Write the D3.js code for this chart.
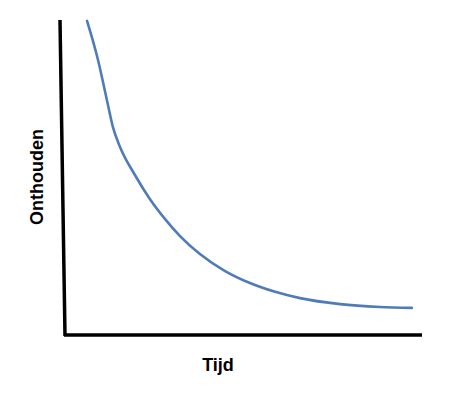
<!DOCTYPE html>
<html>
<head>
<meta charset="utf-8">
<script src="https://cdn.jsdelivr.net/npm/d3@7"></script>
<style>
  body { margin: 0; background: #fff; }
  svg { display: block; }
</style>
</head>
<body>
<svg id="chart"></svg>
<script>
// Vergeetcurve: tijd (0-100) tegen onthouden (0-100)
const tijd = [6.2, 9.3, 11.8, 13.5, 15.5, 19.7, 23.9, 28.2, 32.4, 38.0, 45.1, 52.1, 59.2, 66.2, 77.5, 88.7, 97.7];
const onthouden = [99.7, 87.3, 74.6, 66.0, 59.7, 50.8, 43.2, 36.8, 31.4, 25.7, 20.3, 16.5, 13.7, 11.7, 9.8, 8.9, 8.6];

const xLabel = 'Tijd';
const yLabel = 'Onthouden';

const width = 458;
const height = 406;

const svg = d3.select('#chart')
    .attr('width', width)
    .attr('height', height);

const x = d3.scaleLinear().domain([0, 100]).range([65, 420]);
const y = d3.scaleLinear().domain([0, 100]).range([335, 20]);

const points = tijd.map((t, i) => ({ t: t, v: onthouden[i] }));

// Assen (zonder ticks)
svg.append('line')
    .attr('x1', x(0) - 5).attr('y1', y(100))
    .attr('x2', x(0)).attr('y2', y(0) + 1)
    .attr('stroke', '#000')
    .attr('stroke-width', 3.5);

svg.append('line')
    .attr('x1', x(0) - 1).attr('y1', y(0))
    .attr('x2', x(100) + 2).attr('y2', y(0))
    .attr('stroke', '#000')
    .attr('stroke-width', 3.5);

// Curve
const line = d3.line()
    .x(d => x(d.t))
    .y(d => y(d.v))
    .curve(d3.curveMonotoneX);

svg.append('path')
    .datum(points)
    .attr('d', line)
    .attr('fill', 'none')
    .attr('stroke', '#4f7cb8')
    .attr('stroke-width', 2.6)
    .attr('stroke-linecap', 'round');

// Aslabels
svg.append('text')
    .attr('x', 218)
    .attr('y', 371)
    .attr('text-anchor', 'middle')
    .attr('font-family', 'Liberation Sans, Arial, sans-serif')
    .attr('font-weight', 'bold')
    .attr('font-size', 18)
    .attr('fill', '#000')
    .text(xLabel);

svg.append('text')
    .attr('transform', 'translate(43,177) rotate(-90)')
    .attr('text-anchor', 'middle')
    .attr('font-family', 'Liberation Sans, Arial, sans-serif')
    .attr('font-weight', 'bold')
    .attr('font-size', 18)
    .attr('fill', '#000')
    .text(yLabel);
</script>
</body>
</html>
